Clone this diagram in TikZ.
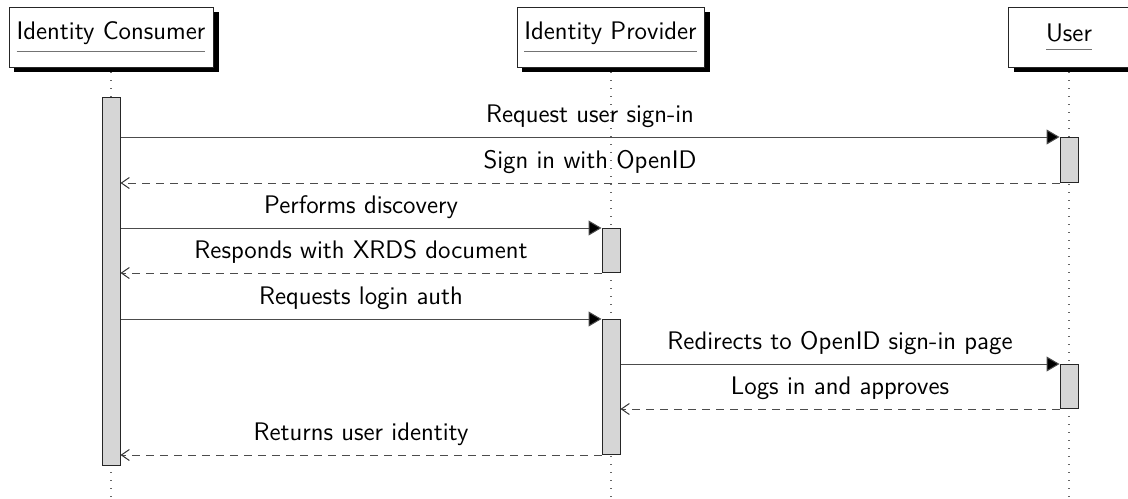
\documentclass[tikz,border=0pt]{standalone}
\usetikzlibrary{arrows.meta,calc}
% participant name with a grey rule set a little below the text
\newcommand\ulined[1]{\setbox0\hbox{#1}\vtop{\copy0\nointerlineskip\kern3.2pt\hbox{\color{black!55}\rule{\wd0}{0.75pt}}}}
\begin{document}
\begin{tikzpicture}[x=0.5pt,y=-0.5pt,
  font=\sffamily\fontsize{12.7}{15}\selectfont,
  actor/.style={draw=black!85,line width=0.5pt,fill=white,minimum height=30pt,
    inner sep=0pt,anchor=center},
  shadowbox/.style={fill=black},
  lifeline/.style={draw=black!60,line width=0.6pt,dash pattern=on 0.6pt off 3.4pt},
  activation/.style={draw=black!85,fill=black!16,line width=0.5pt,minimum width=9pt,
    inner sep=0pt,anchor=north},
  call/.style={draw=black!70,line width=0.5pt,-{Triangle[length=6.5pt,width=7.5pt,fill=black]}},
  reply/.style={draw=black!70,line width=0.5pt,dash pattern=on 4pt off 3pt,
    -{Straight Barb[length=4pt,width=5.5pt,black!80]}},
  msg/.style={midway,above=4.5pt,inner sep=0pt,text height=8.8pt,text depth=2.6pt}
]
\useasboundingbox (0,0) rectangle (1128,498);

% lifelines
\draw[lifeline] (111,72) -- (111,498);
\draw[lifeline] (611,72) -- (611,498);
\draw[lifeline] (1069,72) -- (1069,498);

% participant shadows and boxes
\fill[shadowbox] (14,12) rectangle (219,72);
\fill[shadowbox] (522,12) rectangle (710,72);
\fill[shadowbox] (1014,12) rectangle (1136,72);
\node[actor,minimum width=102pt] (consumer) at (111,37) {\ulined{Identity Consumer}};
\node[actor,minimum width=93.5pt] (provider) at (610.5,37) {\ulined{Identity Provider}};
\node[actor,minimum width=61pt] (user) at (1069,37) {\ulined{User}};

% activation bars
\node[activation,minimum height=184pt] (cact) at (111,97) {};
\node[activation,minimum height=22.5pt] (uact1) at (1069,137) {};
\node[activation,minimum height=22pt] (pact1) at (611,228) {};
\node[activation,minimum height=67.5pt] (pact2) at (611,319) {};
\node[activation,minimum height=22pt] (uact2) at (1069,364) {};

% messages
\draw[call] (cact.east |- uact1.north west) -- (uact1.north west)
  node[msg] {Request user sign-in};
\draw[reply] (uact1.south west) -- (cact.east |- uact1.south west)
  node[msg] {Sign in with OpenID};
\draw[call] (cact.east |- pact1.north west) -- (pact1.north west)
  node[msg] {Performs discovery};
\draw[reply] (pact1.south west) -- (cact.east |- pact1.south west)
  node[msg] {Responds with XRDS document};
\draw[call] (cact.east |- pact2.north west) -- (pact2.north west)
  node[msg] {Requests login auth};
\draw[call] (pact2.east |- uact2.north west) -- (uact2.north west)
  node[msg] {Redirects to OpenID sign-in page};
\draw[reply] (uact2.south west) -- (pact2.east |- uact2.south west)
  node[msg] {Logs in and approves};
\draw[reply] (pact2.south west) -- (cact.east |- pact2.south west)
  node[msg] {Returns user identity};
\end{tikzpicture}
\end{document}
